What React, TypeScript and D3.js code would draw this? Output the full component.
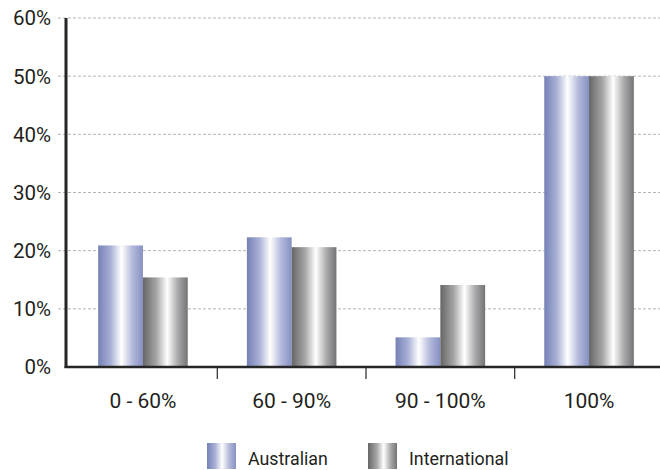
import React from "react";
import * as d3 from "d3";

const categories = ["0 - 60%", "60 - 90%", "90 - 100%", "100%"];
const seriesNames = ["Australian", "International"];
const australian = [20.9, 22.3, 5.1, 50];
const international = [15.4, 20.6, 14.1, 50];
const yTicks = [0, 10, 20, 30, 40, 50, 60];

const W = 660;
const H = 470;
const left = 66;
const top = 18;
const bottom = 367;
const FONT = "Roboto, 'Open Sans', sans-serif";
const TEXT = "#231f20";

const gradients = [
  {
    id: "grad-aus",
    stops: [
      [0, "#7581b6"],
      [0.28, "#a9b0d6"],
      [0.52, "#ffffff"],
      [0.76, "#b5badb"],
      [1, "#8690c2"],
    ],
  },
  {
    id: "grad-int",
    stops: [
      [0, "#666667"],
      [0.3, "#a6a6a7"],
      [0.54, "#ffffff"],
      [0.78, "#a9a9ab"],
      [1, "#747477"],
    ],
  },
];

export default function App() {
  const x = d3.scaleBand<string>().domain(categories).range([68.6, 663.4]).paddingInner(0).paddingOuter(0);
  const inner = d3.scaleBand<string>().domain(seriesNames).range([0, x.bandwidth()]).paddingOuter(0.66).paddingInner(0);
  const y = d3.scaleLinear().domain([0, 60]).range([bottom, top]);
  const series = [australian, international];

  return (
    <svg width={W} height={H} style={{ position: "absolute", left: 0, top: 0, background: "#fff" }}>
      <defs>
        {gradients.map((g) => (
          <linearGradient key={g.id} id={g.id} x1="0" x2="1" y1="0" y2="0">
            {g.stops.map(([o, c]) => (
              <stop key={o as number} offset={o as number} stopColor={c as string} />
            ))}
          </linearGradient>
        ))}
      </defs>

      {/* gridlines and y tick labels */}
      {yTicks.map((t) => (
        <g key={t}>
          {t > 0 && (
            <line x1={58} x2={W} y1={y(t)} y2={y(t)} stroke="#b4b4b4" strokeWidth={1} strokeDasharray="3,2" />
          )}
          <text x={51} y={y(t)} dy="0.36em" textAnchor="end" fontFamily={FONT} fontSize={20.5} fill={TEXT}>
            {t}%
          </text>
        </g>
      ))}

      {/* bars */}
      {categories.map((c, i) => (
        <g key={c} transform={`translate(${x(c)},0)`}>
          {seriesNames.map((s, j) => (
            <rect
              key={s}
              x={inner(s)}
              width={inner.bandwidth()}
              y={y(series[j][i])}
              height={y(0) - y(series[j][i])}
              fill={`url(#${gradients[j].id})`}
            />
          ))}
        </g>
      ))}

      {/* axes */}
      <line x1={left} x2={left} y1={top} y2={bottom + 1} stroke="#262626" strokeWidth={3} />
      <line x1={left - 1.5} x2={W} y1={bottom} y2={bottom} stroke="#262626" strokeWidth={2.5} />
      {categories.slice(1).map((c) => (
        <line key={c} x1={x(c)} x2={x(c)} y1={bottom} y2={379} stroke="#262626" strokeWidth={1.2} />
      ))}
      {categories.map((c) => (
        <text
          key={c}
          x={(x(c) as number) + x.bandwidth() / 2}
          y={408}
          textAnchor="middle"
          fontFamily={FONT}
          fontSize={21}
          fill={TEXT}
        >
          {c}
        </text>
      ))}

      {/* legend */}
      {seriesNames.map((s, j) => {
        const lx = j === 0 ? 207 : 368;
        return (
          <g key={s}>
            <rect x={lx} y={443} width={29} height={26} fill={`url(#${gradients[j].id})`} />
            <text x={lx + 41} y={465} fontFamily={FONT} fontSize={17.8} fill={TEXT}>
              {s}
            </text>
          </g>
        );
      })}
    </svg>
  );
}
